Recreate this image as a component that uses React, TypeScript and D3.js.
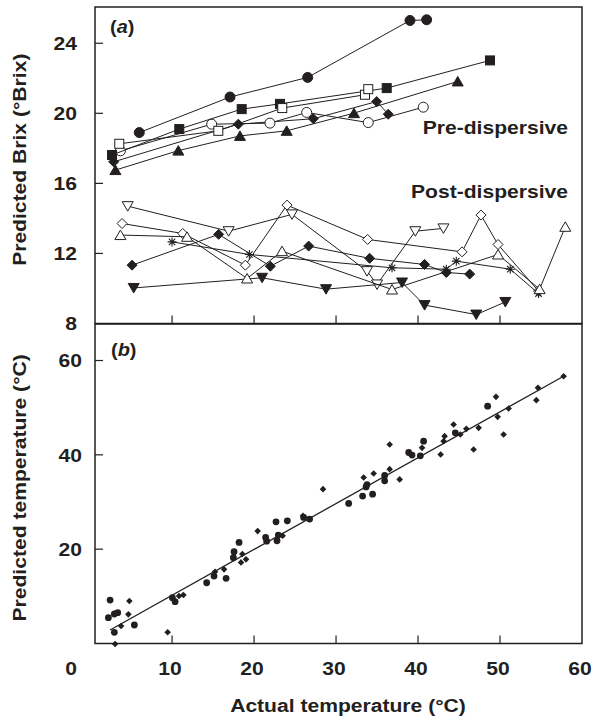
import React from "react";
import * as d3 from "d3";

// panel (a): pre-dispersive series
const fCircX = [6.0, 17.07, 26.54, 39.02, 41.05];
const fCircY = [18.9, 20.93, 22.05, 25.3, 25.34];
const fSqX = [2.68, 10.88, 18.49, 23.16, 36.18, 48.78];
const fSqY = [17.62, 19.1, 20.24, 20.54, 21.44, 23.02];
const oSqX = [3.56, 15.64, 23.44, 33.53, 33.93];
const oSqY = [18.26, 19.0, 20.3, 21.06, 21.38];
const oCircX = [3.7, 14.83, 21.94, 26.42, 33.93, 40.64];
const oCircY = [17.86, 19.38, 19.44, 20.05, 19.47, 20.35];
const fDiaX = [2.88, 18.08, 27.23, 34.96, 36.37];
const fDiaY = [17.23, 19.38, 19.69, 20.67, 19.95];
const fTriX = [3.09, 10.76, 18.28, 23.98, 32.19, 44.84];
const fTriY = [16.76, 17.87, 18.71, 19.0, 20.01, 21.82];

// panel (a): post-dispersive series
const oDownX = [4.59, 16.9, 24.63, 33.78, 35.0, 39.67, 43.1];
const oDownY = [14.7, 13.27, 14.23, 10.99, 10.23, 13.27, 13.43];
const oDiaX = [3.9, 11.3, 18.94, 24.02, 33.85, 45.37, 47.68, 49.76, 54.7];
const oDiaY = [13.71, 13.14, 11.33, 14.76, 12.8, 12.09, 14.19, 12.51, 9.85];
const oTriX = [3.7, 11.83, 19.15, 23.41, 36.83, 49.76, 54.83, 57.96];
const oTriY = [13.05, 12.95, 10.57, 12.13, 9.94, 11.94, 9.96, 13.52];
const starX = [10.0, 19.43, 36.83, 43.45, 44.67, 51.25, 54.7];
const starY = [12.66, 11.94, 11.18, 11.1, 11.56, 11.1, 9.71];
const pDiaX = [5.12, 15.68, 21.99, 26.66, 34.1, 40.8, 43.45, 46.3];
const pDiaY = [11.33, 13.09, 11.27, 12.42, 11.72, 11.37, 10.91, 10.82];
const fDownX = [5.32, 20.98, 28.78, 38.05, 40.8, 47.1, 50.65];
const fDownY = [10.03, 10.61, 9.96, 10.34, 9.05, 8.51, 9.23];

// panel (b): actual vs predicted temperature
const bCircX = [2.44, 2.23, 2.96, 3.37, 2.96, 5.4, 10.04, 10.37, 14.22, 15.12, 16.59, 17.48, 17.56, 18.17, 21.41, 21.54, 22.68, 22.8, 22.96, 24.06, 26.05, 26.78, 31.54, 33.24, 33.66, 33.78, 34.46, 35.93, 35.93, 38.86, 39.27, 40.28, 40.68, 44.55, 48.49];
const bCircY = [9.2, 5.47, 6.25, 6.53, 2.37, 3.92, 9.7, 8.86, 12.88, 14.3, 13.81, 18.18, 19.45, 21.44, 22.5, 21.7, 25.8, 21.78, 22.99, 26.02, 26.73, 26.38, 29.7, 31.25, 33.2, 33.7, 31.67, 35.63, 34.5, 40.5, 39.94, 39.79, 42.9, 44.66, 50.32];
const bDiaX = [4.79, 4.67, 3.78, 3.05, 9.46, 10.85, 11.38, 15.24, 16.34, 18.57, 18.41, 19.02, 20.44, 23.49, 24.02, 25.97, 28.41, 33.37, 34.59, 36.54, 36.54, 37.76, 40.49, 42.76, 43.12, 43.24, 44.34, 45.16, 45.89, 46.78, 47.39, 49.51, 49.71, 50.44, 51.05, 54.43, 54.63, 57.76];
const bDiaY = [9.0, 6.18, 3.7, -0.1, 2.37, 10.06, 10.28, 15.21, 15.72, 18.96, 17.2, 17.84, 23.83, 22.84, 25.95, 27.08, 32.73, 35.2, 36.05, 36.97, 42.2, 34.79, 41.48, 40.08, 42.9, 43.96, 46.44, 44.32, 45.51, 41.14, 45.72, 52.29, 48.05, 44.32, 49.83, 51.59, 54.2, 56.67];
const fitX = [2.44, 57.76];
const fitY = [2.86, 56.67];

const xTicks = [10, 20, 30, 40, 50];
const xLabels = [0, 10, 20, 30, 40, 50, 60];
const aTicks = [24, 20, 16, 12];
const aLabels = [24, 20, 16, 12, 8];
const bTicks = [60, 40, 20];

const ink = "#231f20";
const font = "'Liberation Sans', Arial, sans-serif";
const STRETCH = 1.14;

// text is drawn slightly wide, like the original figure's typeface
const T = ({ x, y, rot = 0, anchor = "start", dy = "0", children, size = 18.5 }) => (
  <text
    transform={`translate(${x},${y}) rotate(${rot}) scale(${STRETCH},1)`}
    textAnchor={anchor}
    dy={dy}
    fontSize={size}
  >
    {children}
  </text>
);

const Marker = ({ shape, x, y }) => {
  const open = shape.startsWith("o");
  const fill = open ? "#fff" : ink;
  const base = open ? shape.slice(1) : shape;
  const t = `translate(${x},${y})`;
  const common = { fill, stroke: ink, strokeWidth: 1 };
  if (base === "circle") return <circle cx={x} cy={y} r={5} {...common} />;
  if (base === "square") return <rect transform={t} x={-4.5} y={-4.5} width={9} height={9} {...common} />;
  if (base === "diamond") return <path transform={t} d="M0,-5L5,0L0,5L-5,0Z" {...common} />;
  if (base === "tri") return <path transform={t} d="M0,-5L5.5,4.5L-5.5,4.5Z" {...common} />;
  if (base === "down") return <path transform={t} d="M0,5L5.5,-4.5L-5.5,-4.5Z" {...common} />;
  // asterisk
  return (
    <path
      transform={t}
      d="M-4.5,0H4.5M0,-4.5V4.5M-3.2,-3.2L3.2,3.2M-3.2,3.2L3.2,-3.2"
      fill="none"
      stroke={ink}
      strokeWidth={1.1}
    />
  );
};

const seriesA = [
  { xs: oDiaX, ys: oDiaY, shape: "odiamond" },
  { xs: oDownX, ys: oDownY, shape: "odown" },
  { xs: fDownX, ys: fDownY, shape: "down" },
  { xs: starX, ys: starY, shape: "star" },
  { xs: pDiaX, ys: pDiaY, shape: "diamond" },
  { xs: oTriX, ys: oTriY, shape: "otri" },
  { xs: fTriX, ys: fTriY, shape: "tri" },
  { xs: fDiaX, ys: fDiaY, shape: "diamond" },
  { xs: oCircX, ys: oCircY, shape: "ocircle" },
  { xs: fSqX, ys: fSqY, shape: "square" },
  { xs: oSqX, ys: oSqY, shape: "osquare" },
  { xs: fCircX, ys: fCircY, shape: "circle" },
];

export default function App() {
  const x = d3.scaleLinear().domain([0.6, 60]).range([95, 582]);
  const yA = d3.scaleLinear().domain([8, 26.07]).range([323.5, 7]);
  const yB = d3.scaleLinear().domain([0, 67.74]).range([643.5, 324]);
  const left = x(0.6);
  const right = x(60);
  const lineGen = d3.line();

  return (
    <svg
      width={592}
      height={717}
      style={{ position: "absolute", left: 0, top: 0, background: "#fff" }}
      fontFamily={font}
      fontWeight="bold"
    >
      {/* panel (a) series */}
      {seriesA.map((s, i) => (
        <g key={i}>
          <path
            d={lineGen(s.xs.map((v, j) => [x(v), yA(s.ys[j])]))}
            fill="none"
            stroke={ink}
            strokeWidth={1}
          />
          {s.xs.map((v, j) => (
            <Marker key={j} shape={s.shape} x={x(v)} y={yA(s.ys[j])} />
          ))}
        </g>
      ))}

      {/* panel (b) fit line and points */}
      <path
        d={lineGen(fitX.map((v, j) => [x(v), yB(fitY[j])]))}
        stroke={ink}
        strokeWidth={1.3}
        fill="none"
      />
      {bCircX.map((v, j) => (
        <circle key={"c" + j} cx={x(v)} cy={yB(bCircY[j])} r={3.4} fill={ink} />
      ))}
      {bDiaX.map((v, j) => (
        <path
          key={"d" + j}
          transform={`translate(${x(v)},${yB(bDiaY[j])})`}
          d="M0,-3.3L3.3,0L0,3.3L-3.3,0Z"
          fill={ink}
        />
      ))}

      {/* frames */}
      <rect x={left} y={yA(26.07)} width={right - left} height={yA(8) - yA(26.07)} fill="none" stroke={ink} strokeWidth={1.5} />
      <rect x={left} y={yB(67.74)} width={right - left} height={yB(0) - yB(67.74)} fill="none" stroke={ink} strokeWidth={1.5} />

      {/* ticks */}
      {xTicks.map((t) => (
        <g key={"xt" + t} stroke={ink} strokeWidth={1.2}>
          <line x1={x(t)} x2={x(t)} y1={yA(8)} y2={yA(8) - 8} />
          <line x1={x(t)} x2={x(t)} y1={yB(0)} y2={yB(0) - 8} />
        </g>
      ))}
      {aTicks.map((t) => (
        <line key={"at" + t} x1={left} x2={left + 8} y1={yA(t)} y2={yA(t)} stroke={ink} strokeWidth={1.2} />
      ))}
      {bTicks.map((t) => (
        <line key={"bt" + t} x1={left} x2={left + 8} y1={yB(t)} y2={yB(t)} stroke={ink} strokeWidth={1.2} />
      ))}

      <g fill={ink}>
        {/* tick labels */}
        {aLabels.map((t) => (
          <T key={"al" + t} x={77} y={yA(t)} dy="0.36em" anchor="end">
            {t}
          </T>
        ))}
        {bTicks.map((t) => (
          <T key={"bl" + t} x={82} y={yB(t)} dy="0.36em" anchor="end">
            {t}
          </T>
        ))}
        {xLabels.map((t) => (
          <T key={"xl" + t} x={t === 0 ? x(t) - 19 : x(t) - 2} y={675} anchor="middle">
            {t}
          </T>
        ))}

        {/* titles */}
        <T x={348} y={712} anchor="middle">
          Actual temperature (°C)
        </T>
        <T x={26} y={yA(17.35)} rot={-90} anchor="middle">
          Predicted Brix (°Brix)
        </T>
        <T x={26} y={yB(33)} rot={-90} anchor="middle">
          Predicted temperature (°C)
        </T>
        <T x={568} y={134} anchor="end">
          Pre-dispersive
        </T>
        <T x={568} y={197.5} anchor="end">
          Post-dispersive
        </T>
        <T x={110} y={33} size={17.5}>
          (<tspan fontStyle="italic">a</tspan>)
        </T>
        <T x={111} y={356} size={17.5}>
          (<tspan fontStyle="italic">b</tspan>)
        </T>
      </g>
    </svg>
  );
}
